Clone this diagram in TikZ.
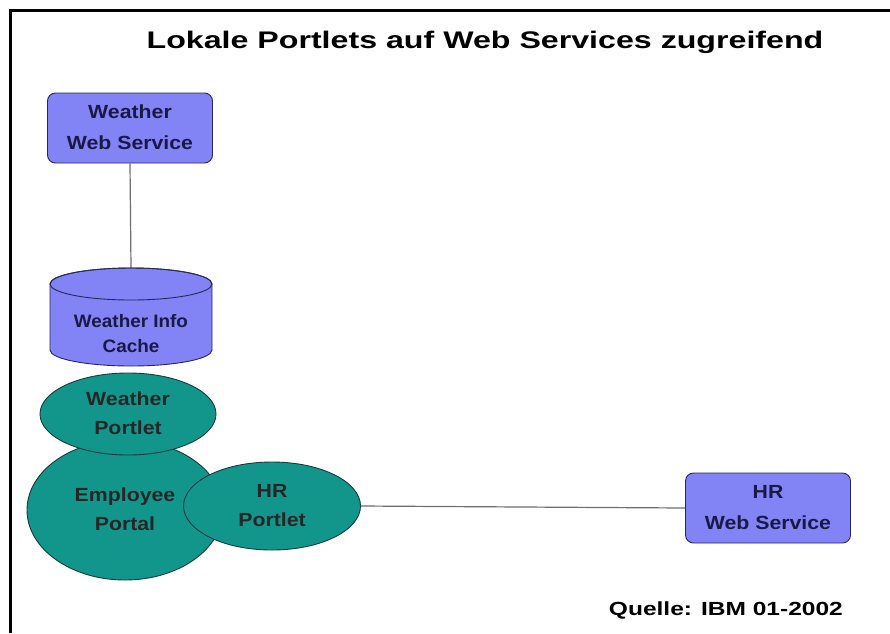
\documentclass[tikz,border=0pt]{standalone}
\usepackage{fontspec}
\setmainfont{Liberation Sans}
\usetikzlibrary{shapes.geometric}
\definecolor{boxblue}{RGB}{130,132,246}
\definecolor{boxedge}{RGB}{40,40,90}
\definecolor{tealfill}{RGB}{18,150,140}
\definecolor{tealedge}{RGB}{20,60,60}
\definecolor{navytext}{RGB}{25,25,70}
\definecolor{linegray}{RGB}{110,110,110}
\newcommand\sx[1]{\scalebox{1.12}[1]{\begin{tabular}{@{}c@{}}#1\end{tabular}}}
\newcommand\sxc[1]{\scalebox{1.05}[1]{\begin{tabular}{@{}c@{}}#1\end{tabular}}}
\tikzset{
  wsbox/.style={draw=boxedge, fill=boxblue, line width=0.9pt, rounded corners=8pt,
    minimum width=165pt, minimum height=70pt, inner sep=0pt,
    font=\fontsize{19}{31}\selectfont\bfseries, text=navytext},
  portlet/.style={ellipse, draw=tealedge, fill=tealfill, line width=0.9pt, inner sep=0pt,
    font=\fontsize{19}{29}\selectfont\bfseries, text=black!85},
  conn/.style={draw=linegray, line width=1.2pt},
  txt/.style={inner sep=0pt, font=\fontsize{18}{25}\selectfont\bfseries, text=navytext}
}
\begin{document}
\begin{tikzpicture}[x=1pt,y=-1pt]
\useasboundingbox (0,0) rectangle (890,633);
\fill[white] (0,0) rectangle (890,633);
% frame
\draw[line width=3pt] (10,633) -- (10,10) -- (890,10);
% title
\node[inner sep=0pt, font=\fontsize{24}{28}\selectfont\bfseries] (title) at (485,42)
  {\scalebox{1.34}[1]{Lokale Portlets auf Web Services zugreifend}};
% weather web service
\node[wsbox] (wws) at (130,128) {\sx{Weather\\Web Service}};
% cache cylinder
\node[inner sep=0pt, minimum width=162pt, minimum height=98pt] (cache) at (131,317) {};
\draw[conn] (wws.south) -- (cache.north);
\filldraw[draw=boxedge, fill=boxblue, line width=0.9pt]
  (50,284) -- (50,350) arc[start angle=180, end angle=360, x radius=81pt, y radius=16pt]
  -- (212,284) arc[start angle=0, end angle=180, x radius=81pt, y radius=16pt] -- cycle;
\draw[draw=boxedge, line width=0.9pt] (131,284) ellipse[x radius=81pt, y radius=16pt];
\node[txt] (cachetext) at (131,335) {\sxc{Weather Info\\Cache}};
% employee portal
\node[portlet, minimum width=196pt, minimum height=140pt] (ep) at (125,510) {\sx{Employee\\Portal}};
% weather portlet
\node[portlet, minimum width=176pt, minimum height=82pt] (wp) at (128,414) {\sx{Weather\\Portlet}};
% hr portlet
\node[portlet, minimum width=177pt, minimum height=88pt] (hp) at (272,506) {\sx{HR\\Portlet}};
% hr web service
\node[wsbox] (hws) at (768,508) {\sx{HR\\Web Service}};
\draw[conn] (hp.east) -- (hws.west);
% source
\node[inner sep=0pt, anchor=east, font=\fontsize{19}{22}\selectfont\bfseries] (src) at (843,610)
  {\scalebox{1.29}[1]{Quelle: IBM 01-2002}};
\end{tikzpicture}
\end{document}
